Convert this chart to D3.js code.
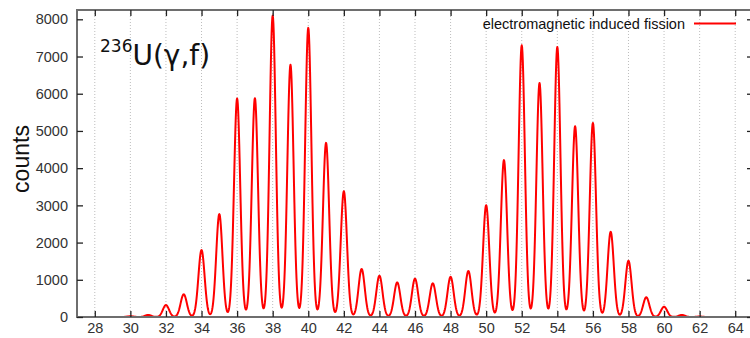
<!DOCTYPE html>
<html>
<head>
<meta charset="utf-8">
<script src="https://cdn.jsdelivr.net/npm/d3@7"></script>
<style>
  html, body { margin: 0; padding: 0; background: #fff; }
  svg { display: block; font-family: "Liberation Sans", Arial, sans-serif; }
</style>
</head>
<body>
<svg id="chart" width="750" height="338"></svg>
<script>
// Fragment charge Z and the peak counts observed at each charge
const charges = [30, 31, 32, 33, 34, 35, 36, 37, 38, 39, 40, 41, 42, 43, 44, 45, 46,
                 47, 48, 49, 50, 51, 52, 53, 54, 55, 56, 57, 58, 59, 60, 61, 62];
const peakCounts = [20, 55, 320, 610, 1800, 2765, 5870, 5880, 8100, 6780, 7770, 4680, 3380, 1290, 1110, 930, 1030,
                    905, 1080, 1235, 3005, 4215, 7300, 6290, 7255, 5125, 5215, 2290, 1510, 530, 275, 55, 12];
// Peak resolution (Gaussian sigma, in units of Z)
const peakSigma = 0.175;

const xTicks = d3.range(28, 65, 2);
const yTicks = d3.range(0, 8001, 1000);
const seriesName = "electromagnetic induced fission";

const svg = d3.select("#chart");
const m = { left: 77, top: 10, right: -3, bottom: 21 };
const W = 750, H = 338;

const x = d3.scaleLinear().domain([27, 65]).range([m.left, W - m.right]);
const y = d3.scaleLinear().domain([0, 8250]).range([H - m.bottom, m.top]);

// Vertical dotted grid
svg.append("g").selectAll("line").data(xTicks).join("line")
  .attr("x1", d => x(d)).attr("x2", d => x(d))
  .attr("y1", y.range()[1]).attr("y2", y.range()[0])
  .attr("stroke", "#bdbdbd").attr("stroke-width", 1)
  .attr("stroke-dasharray", "1,2");

// Spectrum: each charge contributes a Gaussian line of its peak height
const spectrum = d3.range(27, 65.0001, 0.02).map(z => {
  let c = 0;
  charges.forEach((q, i) => {
    const u = (z - q) / peakSigma;
    c += peakCounts[i] * Math.exp(-0.5 * u * u);
  });
  return [z, c];
});

svg.append("path")
  .datum(spectrum)
  .attr("fill", "none")
  .attr("stroke", "#ff0000")
  .attr("stroke-width", 2)
  .attr("stroke-linejoin", "round")
  .attr("d", d3.line().x(d => x(d[0])).y(d => y(d[1])));

// Frame
svg.append("rect")
  .attr("x", m.left).attr("y", m.top)
  .attr("width", W - m.right - m.left).attr("height", H - m.bottom - m.top)
  .attr("fill", "none").attr("stroke", "#6e6e6e").attr("stroke-width", 2);

// Axes with inward ticks
const tickColor = "#222";
const labelColor = "#333";
const styleAxis = g => {
  g.select(".domain").remove();
  g.selectAll(".tick line").attr("stroke", tickColor).attr("stroke-width", 1.3);
  g.selectAll(".tick text").attr("fill", labelColor).attr("font-size", 14.5)
    .attr("font-family", "'Liberation Sans', Arial, sans-serif");
};

svg.append("g").attr("transform", `translate(0,${y(0)})`)
  .call(d3.axisBottom(x).tickValues(xTicks).tickSizeInner(-6).tickPadding(6).tickFormat(d3.format("d")))
  .call(styleAxis);
svg.append("g").attr("transform", `translate(0,${m.top})`)
  .call(d3.axisTop(x).tickValues(xTicks).tickSizeInner(-6).tickFormat(""))
  .call(styleAxis);
svg.append("g").attr("transform", `translate(${m.left},0)`)
  .call(d3.axisLeft(y).tickValues(yTicks).tickSizeInner(-6).tickPadding(9).tickFormat(d3.format("d")))
  .call(styleAxis);
svg.append("g").attr("transform", `translate(${W - m.right},0)`)
  .call(d3.axisRight(y).tickValues(yTicks).tickSizeInner(-6).tickFormat(""))
  .call(styleAxis);

// Y axis title
svg.append("text")
  .attr("transform", "translate(29,159) rotate(-90)")
  .attr("text-anchor", "middle")
  .attr("font-size", 23)
  .attr("fill", "#111")
  .text("counts");

// Reaction label
const title = svg.append("text").attr("x", 100).attr("y", 65).attr("fill", "#111")
  .attr("font-family", "'DejaVu Sans', sans-serif");
title.append("tspan").attr("font-size", 17).attr("dy", -13).text("236");
title.append("tspan").attr("font-size", 28).attr("dy", 13).text("U(γ,f)");

// Legend
svg.append("text")
  .attr("x", 685).attr("y", 28.5)
  .attr("text-anchor", "end")
  .attr("font-size", 14.5)
  .attr("fill", "#111")
  .text(seriesName);
svg.append("line")
  .attr("x1", 694).attr("x2", 736).attr("y1", 23.5).attr("y2", 23.5)
  .attr("stroke", "#ff0000").attr("stroke-width", 2);
</script>
</body>
</html>
